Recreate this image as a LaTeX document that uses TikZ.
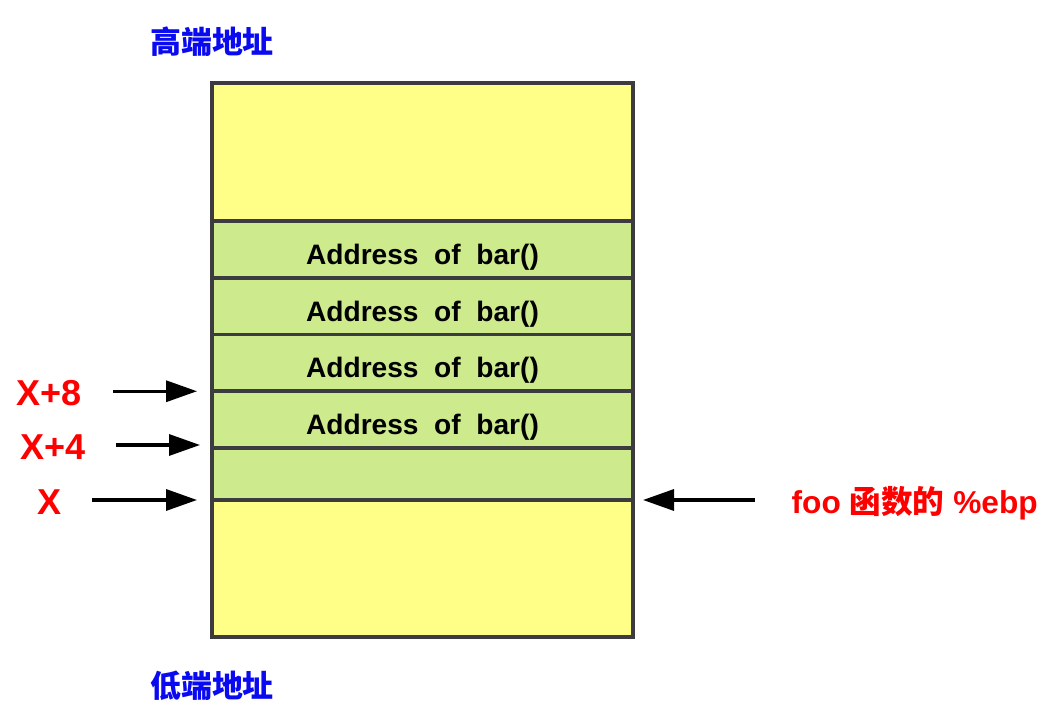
\documentclass[tikz,border=0pt]{standalone}
\usepackage{fontspec}
\setmainfont{Liberation Sans}
\newfontfamily\cjk{Noto Sans CJK SC}
\usepackage{tikz}
\usetikzlibrary{arrows.meta, positioning}

\definecolor{cellyellow}{RGB}{255,255,136}
\definecolor{cellgreen}{RGB}{205,234,140}
\definecolor{cellline}{RGB}{60,60,64}
\definecolor{tagblue}{RGB}{10,10,240}

\begin{document}
\begin{tikzpicture}[
            > = {Triangle[length=0.62cm, width=0.42cm]}, % arrow head style
            line width = 1.9pt,
            node distance = 0pt, % cells sit on each other
            every node/.style={font=\bfseries}
        ]

        \tikzstyle{cell}=[
            draw = cellline,
            line width = 2pt,
            outer sep = 0pt,
            minimum width = 8.42cm,
            minimum height = 1.135cm,
            text height = 0.7cm, text depth = 0.1cm,
            fill = cellgreen,
            font = \bfseries\fontsize{16}{19}\selectfont
        ]
        \tikzstyle{addr}=[text = red, inner sep = 0pt, font = \bfseries\fontsize{20.5}{24}\selectfont]
        \tikzstyle{tag}=[text = tagblue, font = \cjk\bfseries\fontsize{17.6}{20}\selectfont]

        \useasboundingbox (0,0) rectangle (20.84,-14.24);

        % the stack
        \node[cell, fill = cellyellow, minimum height = 2.76cm, anchor = north west] (TOP) at (4.24,-1.66) {};
        \node[cell] (A1) [below=of TOP] {Address\ \ of\ \ bar()};
        \node[cell] (A2) [below=of A1] {Address\ \ of\ \ bar()};
        \node[cell] (A3) [below=of A2] {Address\ \ of\ \ bar()};
        \node[cell] (A4) [below=of A3] {Address\ \ of\ \ bar()};
        \node[cell, minimum height = 1.04cm] (S5) [below=of A4] {};
        \node[cell, fill = cellyellow, minimum height = 2.74cm] (BOT) [below=of S5] {};

        % ends of the address space
        \node[tag] (HI) at ([yshift=0.82cm]TOP.north west) {高端地址};
        \node[tag] (LO) at ([yshift=-0.98cm]BOT.south west) {低端地址};

        % pointers
        \node[addr, anchor=east] (X8) at ([xshift=-2.58cm, yshift=-0.04cm]A3.south west) {X+8};
        \node[addr, anchor=east] (X4) at ([xshift=-2.5cm, yshift=0.02cm]A4.south west) {X+4};
        \node[addr, anchor=east] (X0) at ([xshift=-2.98cm, yshift=-0.04cm]S5.south west) {X};
        \node[addr, anchor=west, font = \bfseries\fontsize{18}{21}\selectfont] (EBP) at ([xshift=3.14cm, yshift=-0.07cm]S5.south east) {foo {\cjk 函数的} \%ebp};

        \draw[->] ([xshift=-1.98cm]A3.south west) -- ([xshift=-0.3cm]A3.south west);
        \draw[->] ([xshift=-1.92cm, yshift=0.06cm]A4.south west) -- ([xshift=-0.24cm, yshift=0.06cm]A4.south west);
        \draw[->] ([xshift=-2.4cm]S5.south west) -- ([xshift=-0.3cm]S5.south west);
        \draw[->] ([xshift=2.44cm]S5.south east) -- ([xshift=0.2cm]S5.south east);

    \end{tikzpicture}
\end{document}
